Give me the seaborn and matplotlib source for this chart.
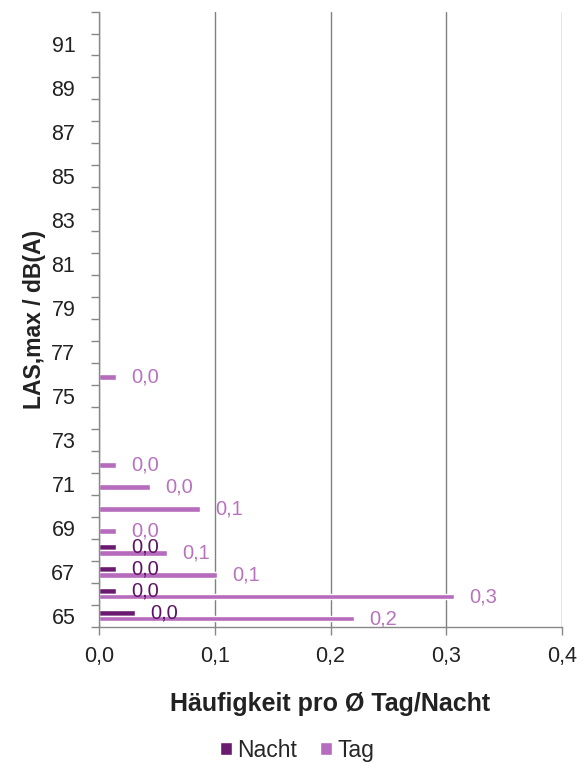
import numpy as np
import pandas as pd
import matplotlib
matplotlib.use("Agg")
import matplotlib.pyplot as plt
import seaborn as sns

# ---- data ----
levels = list(range(65, 93))  # LAS,max / dB(A) classes
nacht = {65: 0.031, 66: 0.015, 67: 0.015, 68: 0.015}
tag = {65: 0.220, 66: 0.307, 67: 0.102, 68: 0.059, 69: 0.015,
       70: 0.087, 71: 0.044, 72: 0.015, 76: 0.015}
series = ["Nacht", "Tag"]
xticks = [0.0, 0.1, 0.2, 0.3, 0.4]

colors = {"Nacht": "#6a1b70", "Tag": "#b66cbc"}
label_colors = {"Nacht": "#5e1464", "Tag": "#b873be"}

rows = []
for lv in levels:
    rows.append({"level": str(lv), "serie": "Nacht", "value": nacht.get(lv, np.nan)})
    rows.append({"level": str(lv), "serie": "Tag", "value": tag.get(lv, np.nan)})
df = pd.DataFrame(rows)
order = [str(lv) for lv in reversed(levels)]

sns.set_theme(style="white")
plt.rcParams['font.family'] = ['Liberation Sans', 'DejaVu Sans']

fig = plt.figure(figsize=(5.85, 7.69), dpi=100)
ax = fig.add_axes([0.169, 0.185, 0.792, 0.800])

sns.barplot(data=df, y="level", x="value", hue="serie", order=order,
            hue_order=series, palette=colors, orient="h", width=0.52,
            errorbar=None, ax=ax, legend=True, saturation=1)

for cont, s in zip(ax.containers, series):
    labs = []
    for bar in cont:
        w = bar.get_width()
        if np.isnan(w) or w <= 0:
            labs.append("")
        else:
            labs.append(f"{w:.1f}".replace(".", ","))
    ax.bar_label(cont, labels=labs, padding=11, color=label_colors[s], fontsize=14.5)

ax.set_xlim(0, 0.4)
n = len(order)
ax.set_ylim(n - 0.5, -0.5)

# x axis
ax.set_xticks(xticks)
ax.set_xticklabels([f"{v:.1f}".replace(".", ",") for v in xticks], fontsize=15.5, color="#222222")
ax.tick_params(axis="x", which="major", length=6, width=1, color="#888888", direction="out", bottom=True, pad=8)
ax.xaxis.grid(True, color="#808080", linewidth=1)
ax.yaxis.grid(False)

# y axis: labels at odd levels, ticks at category boundaries
lab_pos = [i for i, l in enumerate(order) if int(l) % 2 == 1]
ax.set_yticks(lab_pos)
ax.set_yticklabels([order[i] for i in lab_pos], fontsize=15.5, color="#222222")
ax.set_yticks(np.arange(-0.5, n, 1.0), minor=True)
ax.tick_params(axis="y", which="major", length=0, pad=17)
ax.tick_params(axis="y", which="minor", length=6, width=1, color="#888888", direction="out", left=True)

for sp in ["top", "right"]:
    ax.spines[sp].set_visible(False)
for sp in ["left", "bottom"]:
    ax.spines[sp].set_color("#888888")
    ax.spines[sp].set_linewidth(1)

ax.set_xlabel("Häufigkeit pro Ø Tag/Nacht", fontsize=18, fontweight="bold", color="#222222", labelpad=18)
ax.set_ylabel("LAS,max / dB(A)", fontsize=16.5, fontweight="bold", color="#222222", labelpad=4)

leg = ax.get_legend()
handles = leg.legend_handles
leg.remove()
fig.legend(handles, series, loc="center", bbox_to_anchor=(0.508, 0.024), ncol=2, frameon=False,
           fontsize=16.5, handlelength=0.5, handleheight=0.5, handletextpad=0.25, columnspacing=1.0,
           borderpad=0.1)

fig.savefig("out.png", dpi=100)
